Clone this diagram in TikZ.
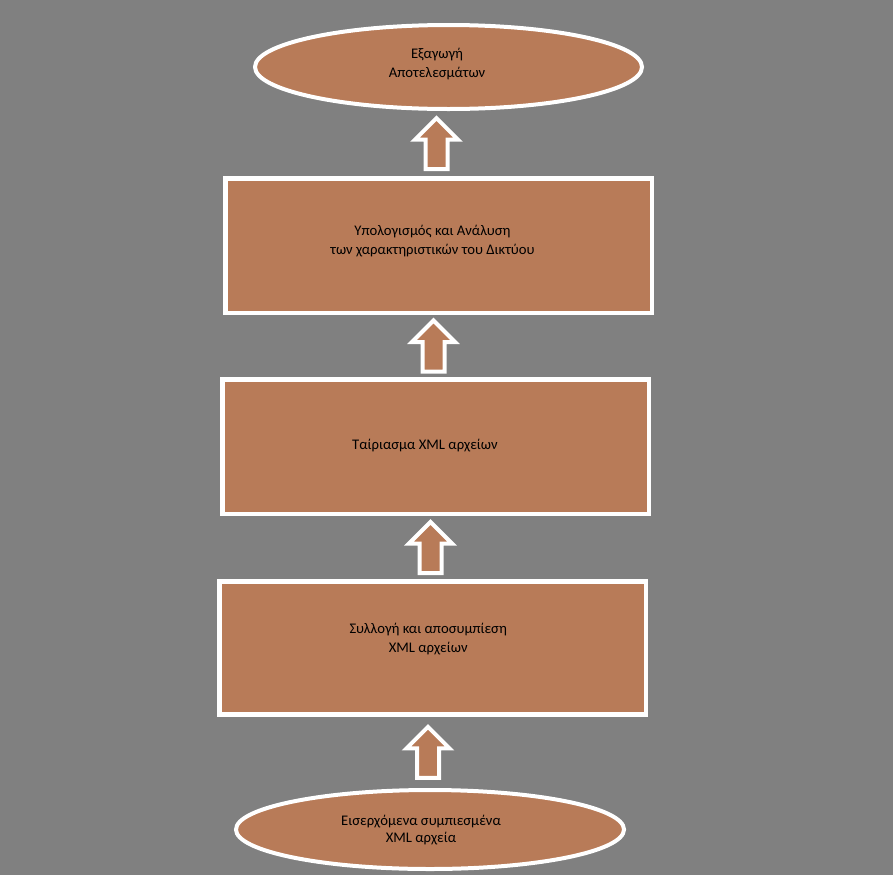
\documentclass[tikz,border=0pt]{standalone}
\usepackage{fontspec}
\setmainfont{Carlito}
\usepackage{xcolor}
\usetikzlibrary{shapes.geometric,calc}
\definecolor{clay}{HTML}{B87B58}
\definecolor{slate}{HTML}{808080}

\tikzset{
	stage/.style={rectangle, draw=white, line width=3.4pt, fill=clay, minimum width=319.9pt, minimum height=100.9pt, inner sep=0pt, outer sep=0pt},
	endpoint/.style={ellipse, draw=white, line width=3pt, fill=clay, inner sep=0pt, outer sep=0pt},
	caption/.style={align=center, inner sep=0pt, text=black, font=\fontsize{11pt}{14.25pt}\selectfont},
	blockarrow/.style={draw=white, line width=3pt, fill=clay}
}

\begin{document}
\begin{tikzpicture}[x=0.75pt, y=-0.75pt]
	\fill[slate] (0,0) rectangle (893,875);
	\useasboundingbox (0,0) rectangle (893,875);
	\node[endpoint, minimum width=290.25pt, minimum height=63pt] (export) at (448.5,67) {};
	\node[stage] (calc) at (438.5,245.5) {};
	\node[stage] (match) at (435.5,446.5) {};
	\node[stage, minimum height=100.1pt] (unzip) at (432.5,648) {};
	\node[endpoint, minimum width=291pt, minimum height=59.25pt] (inbox) at (430,829.5) {};
	% texts
	\node[caption] (export-t) at ($(export)+(-11.5,-3.4)$) {Εξαγωγή\\Αποτελεσμάτων};
	\node[caption] (calc-t) at ($(calc)+(-6,-4.9)$) {Υπολογισμός και Ανάλυση\\των χαρακτηριστικών του Δικτύου};
	\node[caption] (match-t) at ($(match)+(-10.5,-1.4)$) {Ταίριασμα XML αρχείων};
	\node[caption] (unzip-t) at ($(unzip)+(-4.3,-9.4)$) {Συλλογή και αποσυμπίεση\\XML αρχείων};
	\node[caption, font=\fontsize{11pt}{13.3pt}\selectfont] (inbox-t) at ($(inbox)+(-9,0.5)$) {Εισερχόμενα συμπιεσμένα\\XML αρχεία};
	% block arrows
	\foreach \lo/\hi in {inbox/unzip, unzip/match, match/calc, calc/export} {
		\coordinate (m) at ($(\lo.north)!.5!(\lo.north|-\hi.south)+(-2,0)$);
		\draw[blockarrow] (m) ++(-11,25.5) -- ++(0,-29.5) -- ++(-10.5,0) -- ++(21.5,-21.5) -- ++(21.5,21.5) -- ++(-10.5,0) -- ++(0,29.5) -- cycle;
	}
\end{tikzpicture}
\end{document}
